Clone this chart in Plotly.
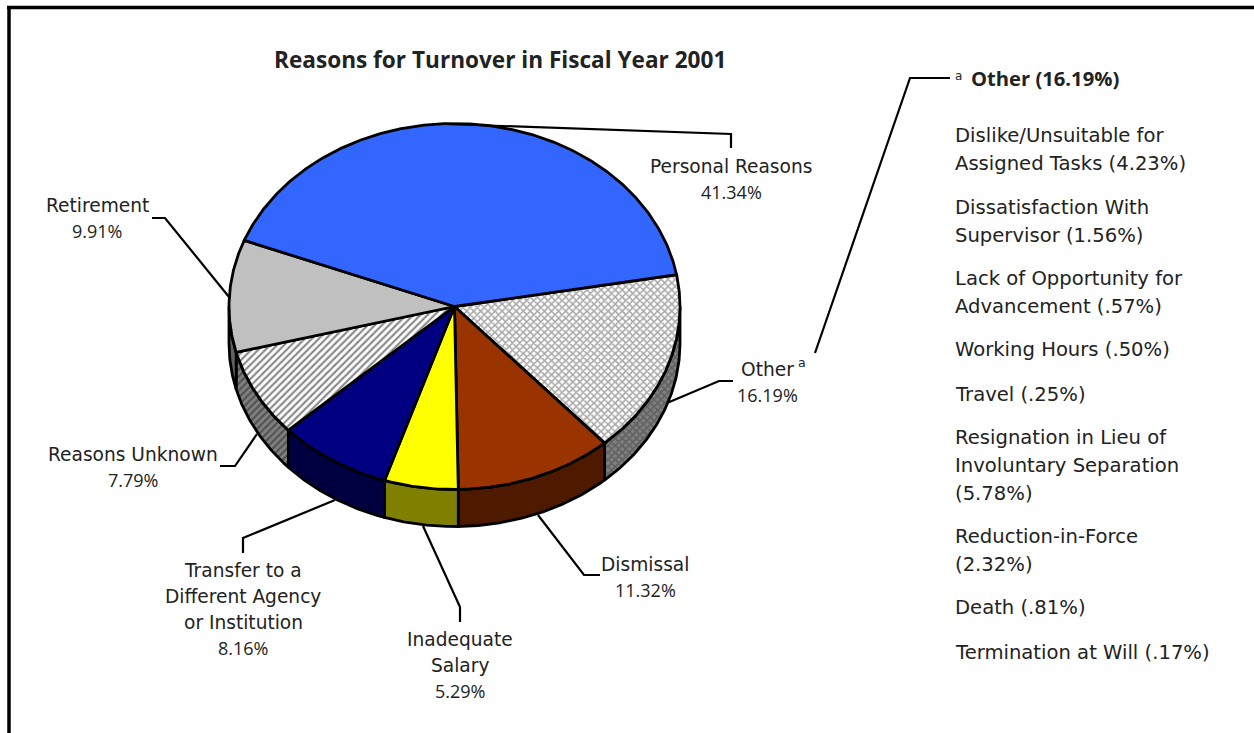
import math
import plotly.graph_objects as go

# Turnover shares, fiscal year 2001 (percent), clockwise from the top slice's right edge
categories = ["Other", "Dismissal", "Inadequate Salary",
              "Transfer to a Different Agency or Institution",
              "Reasons Unknown", "Retirement", "Personal Reasons"]
shares = [16.19, 11.32, 5.29, 8.16, 7.79, 9.91, 41.34]

other_breakdown = [
    (["Dislike/Unsuitable for", "Assigned Tasks (4.23%)"], 135),
    (["Dissatisfaction With", "Supervisor (1.56%)"], 207),
    (["Lack of Opportunity for", "Advancement (.57%)"], 278),
    (["Working Hours (.50%)"], 349),
    (["Travel (.25%)"], 394),
    (["Resignation in Lieu of", "Involuntary Separation", "(5.78%)"], 437),
    (["Reduction-in-Force", "(2.32%)"], 536),
    (["Death (.81%)"], 607),
    (["Termination at Will (.17%)"], 652),
]

# Centred slice captions: lines, centre x, first-line y
slice_labels = [
    (["Personal Reasons", "41.34%"], 731, 166),
    (["Other", "16.19%"], 767, 369),
    (["Dismissal", "11.32%"], 645, 564),
    (["Inadequate", "Salary", "5.29%"], 460, 639),
    (["Transfer to a", "Different Agency", "or Institution", "8.16%"], 243, 570),
    (["Reasons Unknown", "7.79%"], 133, 454),
    (["Retirement", "9.91%"], 97, 205),
]

# Leader lines from each slice to its caption
leaders = [
    [(445, 124), (731, 134), (731, 148)],
    [(667, 403), (719, 381), (733, 381)],
    [(815, 353), (910, 78), (950, 78)],
    [(538, 515), (584, 575), (600, 575)],
    [(423, 526), (460, 607), (460, 622)],
    [(335, 500), (243, 538), (243, 553)],
    [(257, 434), (235, 466), (220, 466)],
    [(229, 297), (165, 218), (152, 218)],
]

# Pie geometry on a pixel-sized canvas
WIDTH, HEIGHT = 1254, 733
CX, CY, RX, RY, DEPTH = 454.5, 306.5, 225.5, 183.0, 37.0
START_DEG = 80.0
FONT = "DejaVu Sans"
HEAD_FONT = "Open Sans"
TEXT = "#222222"
LINE_H = 28
EDGE = 2.8
CAPTION_SIZE = 18.6
PERCENT_SIZE = 18
LIST_SIZE = 19.6

top_styles = {
    "Other": dict(fillcolor="#ffffff", fillpattern=dict(shape="x", size=5, solidity=0.55, fgcolor="#555555", bgcolor="#ffffff")),
    "Dismissal": dict(fillcolor="#993300"),
    "Inadequate Salary": dict(fillcolor="#ffff00"),
    "Transfer to a Different Agency or Institution": dict(fillcolor="#000080"),
    "Reasons Unknown": dict(fillcolor="#ffffff", fillpattern=dict(shape="/", size=5, solidity=0.42, fgcolor="#111111", bgcolor="#ffffff")),
    "Retirement": dict(fillcolor="#c0c0c0"),
    "Personal Reasons": dict(fillcolor="#3366ff"),
}
side_styles = {
    "Other": dict(fillcolor="#808080", fillpattern=dict(shape="x", size=5, solidity=0.55, fgcolor="#404040", bgcolor="#808080")),
    "Dismissal": dict(fillcolor="#4d1a00"),
    "Inadequate Salary": dict(fillcolor="#808000"),
    "Transfer to a Different Agency or Institution": dict(fillcolor="#000040"),
    "Reasons Unknown": dict(fillcolor="#808080", fillpattern=dict(shape="/", size=5, solidity=0.42, fgcolor="#222222", bgcolor="#808080")),
    "Retirement": dict(fillcolor="#606060"),
    "Personal Reasons": dict(fillcolor="#1a3380"),
}


def rim(deg, drop=0.0):
    t = math.radians(deg)
    return CX + RX * math.sin(t), CY - RY * math.cos(t) + drop


def arc(a, b, drop=0.0):
    n = max(2, int(abs(b - a) * 2))
    return [rim(a + (b - a) * i / n, drop) for i in range(n + 1)]


fig = go.Figure()
edges = []
angle = START_DEG
for name, share in zip(categories, shares):
    edges.append((name, angle, angle + share * 3.6))
    angle += share * 3.6

# Outer wall: only the front half of the rim faces the viewer
for name, a, b in edges:
    lo, hi = max(a, 90.0), min(b, 270.0)
    if lo < hi:
        pts = arc(lo, hi) + arc(hi, lo, DEPTH)
        pts.append(pts[0])
        fig.add_trace(go.Scatter(x=[p[0] for p in pts], y=[p[1] for p in pts],
                                 mode="lines", fill="toself", hoverinfo="skip",
                                 line=dict(color="#000000", width=EDGE), **side_styles[name]))

# Top face
for name, a, b in edges:
    pts = [(CX, CY)] + arc(a, b) + [(CX, CY)]
    fig.add_trace(go.Scatter(x=[p[0] for p in pts], y=[p[1] for p in pts],
                             mode="lines", fill="toself", name=name, hoverinfo="name",
                             line=dict(color="#000000", width=EDGE), **top_styles[name]))

for path in leaders:
    fig.add_trace(go.Scatter(x=[p[0] for p in path], y=[p[1] for p in path], mode="lines",
                             hoverinfo="skip", line=dict(color="#000000", width=2.2)))

notes = []


def put(text, x, y, anchor="center", size=CAPTION_SIZE, weight=400, family=FONT):
    notes.append(dict(x=x, y=y, xref="x", yref="y", text=text,
                      showarrow=False, xanchor=anchor, yanchor="middle",
                      font=dict(family=family, size=size, color=TEXT, weight=weight)))


put("Reasons for Turnover in Fiscal Year 2001", 500, 59, size=22.6, weight=700, family=HEAD_FONT)
put("a", 953, 76, anchor="left", size=12)
put("Other (16.19%)", 969, 78, anchor="left", size=20.2, weight=700, family=HEAD_FONT)
put("a", 802, 362, size=12.5)

# Percent lines use the narrower face so their digits keep full height
for lines, cx, y in slice_labels:
    for i, line in enumerate(lines):
        if line.endswith("%"):
            put(line, cx, y + i * 26, size=PERCENT_SIZE, family=HEAD_FONT)
        else:
            put(line, cx, y + i * 26, size=CAPTION_SIZE)

for lines, y in other_breakdown:
    for i, line in enumerate(lines):
        put(line, 953, y + i * LINE_H, anchor="left", size=LIST_SIZE)

# Page frame runs off the canvas at the top right and the bottom
frame = [dict(type="line", xref="x", yref="y", x0=7, y0=7.5, x1=1254, y1=7.5, line=dict(color="#000000", width=3.5)),
         dict(type="line", xref="x", yref="y", x0=9, y0=6, x1=9, y1=733, line=dict(color="#000000", width=3.5))]

fig.update_layout(
    width=WIDTH, height=HEIGHT, margin=dict(l=0, r=0, t=0, b=0),
    paper_bgcolor="#ffffff", plot_bgcolor="#ffffff", showlegend=False,
    xaxis=dict(range=[0, WIDTH], visible=False, fixedrange=True),
    yaxis=dict(range=[HEIGHT, 0], visible=False, fixedrange=True),
    annotations=notes, shapes=frame,
)
fig.write_html("out.html", config=dict(displayModeBar=False))
